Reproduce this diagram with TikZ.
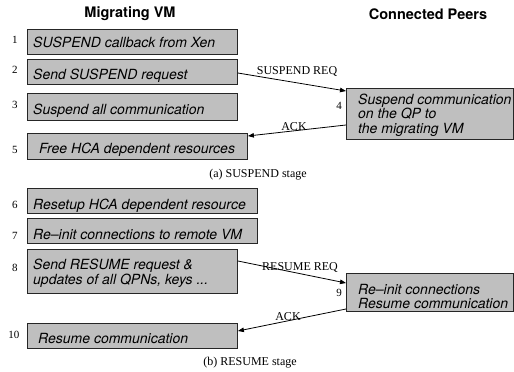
\documentclass[tikz,border=0pt]{standalone}
\usepackage{fontspec}
\setmainfont{Liberation Serif}
\newfontfamily\hvfont{TeX Gyre Heros}
\usetikzlibrary{arrows.meta,calc}
\begin{document}
\begin{tikzpicture}[x=1pt,y=-1pt,
  stepbox/.style={draw=black!85, line width=0.9pt, fill=black!25, anchor=north west, inner sep=0pt},
  boxtext/.style={inner sep=0pt, font=\hvfont\itshape\fontsize{14}{14.3}\selectfont, align=left},
  numtext/.style={inner sep=0pt, font=\fontsize{11}{12}\selectfont},
  msgtext/.style={inner sep=0pt, anchor=base, font=\fontsize{12}{13}\selectfont},
  captext/.style={inner sep=0pt, font=\fontsize{12}{13}\selectfont},
  titletext/.style={inner sep=0pt, font=\hvfont\bfseries\fontsize{14.5}{16}\selectfont},
  arr/.style={line width=0.8pt, -{Triangle[length=6pt,width=4.5pt]}}
]
\useasboundingbox (0,0) rectangle (514,372);

% titles
\node[titletext] (t1) at (130,14) {Migrating VM};
\node[titletext] (t2) at (428,14) {Connected Peers};

% boxes
\node[stepbox, minimum width=210pt, minimum height=25pt] (b1) at (27,29) {};
\node[stepbox, minimum width=210pt, minimum height=25pt] (b2) at (27,59) {};
\node[stepbox, minimum width=210pt, minimum height=27pt] (b3) at (27,93) {};
\node[stepbox, minimum width=220pt, minimum height=26pt] (b5) at (27,133) {};
\node[stepbox, minimum width=167pt, minimum height=51pt] (b4) at (346,88) {};
\node[stepbox, minimum width=230pt, minimum height=25pt] (b6) at (27,188) {};
\node[stepbox, minimum width=230pt, minimum height=25pt] (b7) at (27,218) {};
\node[stepbox, minimum width=210pt, minimum height=44pt] (b8) at (27,249) {};
\node[stepbox, minimum width=210pt, minimum height=25pt] (b10) at (27,323) {};
\node[stepbox, minimum width=167pt, minimum height=38pt] (b9) at (346,273) {};

% box texts
\node[boxtext, anchor=base west] (x1) at (33,47) {SUSPEND callback from Xen};
\node[boxtext, anchor=base west] (x2) at (33,79) {Send SUSPEND request};
\node[boxtext, anchor=base west] (x3) at (33,114) {Suspend all communication};
\node[boxtext, anchor=base west] (x5) at (39,153) {Free HCA dependent resources};
\node[boxtext, anchor=north west] (x4) at (358,93.8) {Suspend communication\\on the QP to\\the migrating VM};
\node[boxtext, anchor=base west] (x6) at (33,209) {Resetup HCA dependent resource};
\node[boxtext, anchor=base west] (x7) at (33,239) {Re{\textendash}init connections to remote VM};
\node[boxtext, anchor=north west] (x8) at (33,259.3) {Send RESUME request \&\\updates of all QPNs, keys ...};
\node[boxtext, anchor=base west] (x10) at (38,343) {Resume communication};
\node[boxtext, anchor=north west] (x9) at (358,284) {Re{\textendash}init connections\\Resume communication};

% step numbers
\node[numtext] (n1) at (15,40) {1};
\node[numtext] (n2) at (15,70) {2};
\node[numtext] (n3) at (15,105) {3};
\node[numtext] (n5) at (15,150) {5};
\node[numtext] (n4) at (339,106) {4};
\node[numtext] (n6) at (15,205) {6};
\node[numtext] (n7) at (15,236) {7};
\node[numtext] (n8) at (15,268) {8};
\node[numtext] (n10) at (14,335) {10};
\node[numtext] (n9) at (339,293) {9};

% messages
\draw[arr] ($(b2.north east)+(0,14)$) -- ($(b4.north west)+(0,3)$);
\draw[arr] ($(b4.north west)+(0,37)$) -- ($(b5.north east)+(0,3)$);
\draw[arr] ($(b8.north east)+(0,12)$) -- ($(b9.north west)+(0,10)$);
\draw[arr] ($(b9.north west)+(0,36)$) -- ($(b10.north east)+(0,8)$);

\node[msgtext] (m1) at (297,74) {SUSPEND REQ};
\node[msgtext] (m2) at (294,130) {ACK};
\node[msgtext] (m3) at (300,270) {RESUME REQ};
\node[msgtext] (m4) at (288,320) {ACK};

% captions
\node[captext] (c1) at (258,175) {(a) SUSPEND stage};
\node[captext] (c2) at (250,363) {(b) RESUME stage};
\end{tikzpicture}
\end{document}
